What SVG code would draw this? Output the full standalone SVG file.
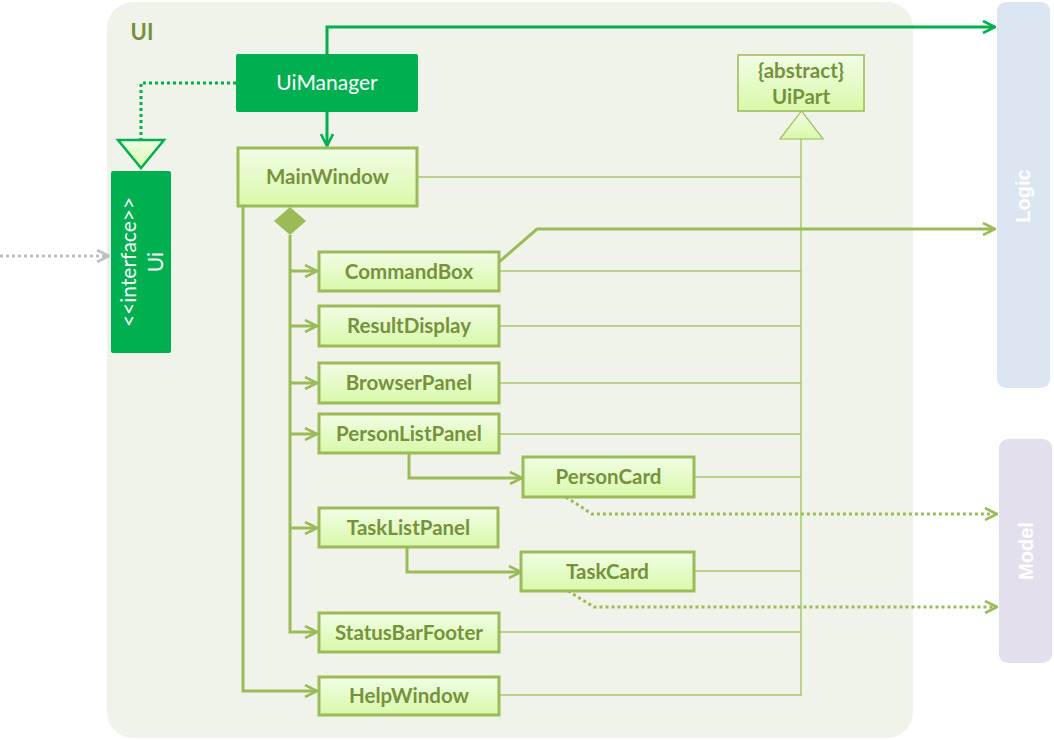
<svg xmlns="http://www.w3.org/2000/svg" width="1054" height="740" viewBox="0 0 1054 740">
<defs>
<linearGradient id="boxg" x1="0" y1="0" x2="0" y2="1">
<stop offset="0" stop-color="#F1FDE6"/>
<stop offset="1" stop-color="#D9F9A9"/>
</linearGradient>
<marker id="aG" viewBox="0 0 14 14" refX="13" refY="7" markerWidth="14" markerHeight="14" markerUnits="userSpaceOnUse" orient="auto">
<path d="M1,1 L13,7 L1,13" fill="none" stroke="#00B050" stroke-width="2.6"/>
</marker>
<marker id="aO" viewBox="0 0 14 14" refX="13" refY="7" markerWidth="14" markerHeight="14" markerUnits="userSpaceOnUse" orient="auto">
<path d="M1,1 L13,7 L1,13" fill="none" stroke="#9BBB59" stroke-width="2.6"/>
</marker>
<marker id="aY" viewBox="0 0 14 14" refX="13" refY="7" markerWidth="14" markerHeight="14" markerUnits="userSpaceOnUse" orient="auto">
<path d="M1,1 L13,7 L1,13" fill="none" stroke="#BFBFBF" stroke-width="2.6"/>
</marker>
</defs>
<style>
.box{fill:url(#boxg);stroke:#9BBB59;stroke-width:3}
.lbl{font-family:Lato,"Liberation Sans",sans-serif;font-weight:700;font-size:20.5px;fill:#76923C;text-anchor:middle}
.wl{font-family:Lato,"Liberation Sans",sans-serif;font-size:21px;fill:#FFFFFF;text-anchor:middle}
.pk{font-family:"Liberation Sans",Arial,sans-serif;font-weight:700;font-size:20px;fill:#FFFFFF;text-anchor:middle}
.thin{stroke:#A9C96A;stroke-width:1.5;fill:none}
.olive{stroke:#9BBB59;stroke-width:3;fill:none}
.grn{stroke:#00B050;stroke-width:3;fill:none}
</style>

<g id="ui-container">
<rect x="107" y="2" width="806" height="736" rx="26" fill="#F0F3E9"/>
<text x="142" y="40" font-family="Lato,'Liberation Sans',sans-serif" font-weight="700" font-size="22" fill="#76923C" text-anchor="middle">UI</text>
</g>

<g id="logic">
<rect x="997" y="2" width="53" height="386" rx="9" fill="#DCE6F2"/>
<text class="pk" transform="translate(1030,196) rotate(-90)">Logic</text>
</g>
<g id="model">
<rect x="999" y="439" width="53" height="224" rx="9" fill="#E4DFEC"/>
<text class="pk" transform="translate(1033,551) rotate(-90)">Model</text>
</g>

<g id="connectors">
<line class="thin" x1="801" y1="139" x2="801" y2="696"/>
<line class="thin" x1="417" y1="177" x2="801" y2="177"/>
<line class="thin" x1="499" y1="271" x2="801" y2="271"/>
<line class="thin" x1="499" y1="326" x2="801" y2="326" stroke="#C3D69B"/>
<line class="thin" x1="499" y1="383" x2="801" y2="383"/>
<line class="thin" x1="499" y1="434" x2="801" y2="434"/>
<line class="thin" x1="694" y1="477" x2="801" y2="477"/>
<line class="thin" x1="694" y1="571" x2="801" y2="571"/>
<line class="thin" x1="499" y1="632" x2="801" y2="632"/>
<line class="thin" x1="499" y1="695" x2="801" y2="695"/>
<path d="M780,139 L823,139 L801.5,111 Z" fill="url(#boxg)" stroke="#9BBB59" stroke-width="1.2"/>

<path class="grn" d="M327,54 L327,27 L995,27" marker-end="url(#aG)"/>
<path class="grn" d="M327,112 L327,146" marker-end="url(#aG)"/>
<path d="M236,83 L141,83 L141,139" fill="none" stroke="#00B050" stroke-width="3" stroke-dasharray="3,3"/>
<path d="M118,140 L164,140 L141,168 Z" fill="url(#boxg)" stroke="#00B050" stroke-width="2.5"/>
<path d="M0,256 L109,256" fill="none" stroke="#BFBFBF" stroke-width="3" stroke-dasharray="3,3" marker-end="url(#aY)"/>

<path class="olive" d="M290,235 L290,632 L317,632" marker-end="url(#aO)"/>
<path d="M290,207 L306,221 L290,235 L274,221 Z" fill="#9BBB59"/>
<path class="olive" d="M290,271 L317,271" marker-end="url(#aO)"/>
<path class="olive" d="M290,326 L317,326" marker-end="url(#aO)"/>
<path class="olive" d="M290,383 L317,383" marker-end="url(#aO)"/>
<path class="olive" d="M290,434 L317,434" marker-end="url(#aO)"/>
<path class="olive" d="M290,528 L317,528" marker-end="url(#aO)"/>
<path class="olive" d="M243,206 L243,691 L317,691" marker-end="url(#aO)"/>
<path class="olive" d="M409,453 L409,478 L522,478" marker-end="url(#aO)"/>
<path class="olive" d="M407,547 L407,572 L521,572" marker-end="url(#aO)"/>

<path class="olive" d="M499,262 L537,229 L995,229" marker-end="url(#aO)"/>
<path d="M566,497 L592,514 L997,514" fill="none" stroke="#9BBB59" stroke-width="3" stroke-dasharray="3,3" marker-end="url(#aO)"/>
<path d="M568,591 L594,607 L997,607" fill="none" stroke="#9BBB59" stroke-width="3" stroke-dasharray="3,3" marker-end="url(#aO)"/>
</g>

<g id="UiManager">
<rect x="236" y="54" width="182" height="58" rx="2" fill="#00B050"/>
<text class="wl" x="327" y="90">UiManager</text>
</g>
<g id="Ui">
<rect x="111" y="171" width="60" height="182" rx="2" fill="#00B050"/>
<text class="wl" transform="translate(136,262) rotate(-90)">&lt;&lt;interface&gt;&gt;</text>
<text class="wl" transform="translate(163,262) rotate(-90)">Ui</text>
</g>
<g id="UiPart">
<rect x="738" y="55" width="126" height="56" fill="url(#boxg)" stroke="#9BBB59" stroke-width="1.5"/>
<text class="lbl" x="801" y="78">{abstract}</text>
<text class="lbl" x="801" y="104">UiPart</text>
</g>
<g id="MainWindow">
<rect class="box" x="238" y="148" width="179" height="58"/>
<text class="lbl" x="327.5" y="184">MainWindow</text>
</g>
<g id="CommandBox">
<rect class="box" x="319" y="252" width="180" height="39"/>
<text class="lbl" x="409" y="279">CommandBox</text>
</g>
<g id="ResultDisplay">
<rect class="box" x="319" y="306" width="180" height="40"/>
<text class="lbl" x="409" y="333">ResultDisplay</text>
</g>
<g id="BrowserPanel">
<rect class="box" x="319" y="363" width="180" height="40"/>
<text class="lbl" x="409" y="390">BrowserPanel</text>
</g>
<g id="PersonListPanel">
<rect class="box" x="319" y="414" width="180" height="39"/>
<text class="lbl" x="409" y="441">PersonListPanel</text>
</g>
<g id="PersonCard">
<rect class="box" x="523" y="457" width="171" height="40"/>
<text class="lbl" x="608.5" y="484">PersonCard</text>
</g>
<g id="TaskListPanel">
<rect class="box" x="319" y="508" width="179" height="39"/>
<text class="lbl" x="408.5" y="535">TaskListPanel</text>
</g>
<g id="TaskCard">
<rect class="box" x="521" y="552" width="173" height="39"/>
<text class="lbl" x="607.5" y="579">TaskCard</text>
</g>
<g id="StatusBarFooter">
<rect class="box" x="319" y="613" width="180" height="39"/>
<text class="lbl" x="409" y="640">StatusBarFooter</text>
</g>
<g id="HelpWindow">
<rect class="box" x="319" y="677" width="180" height="38"/>
<text class="lbl" x="409" y="703">HelpWindow</text>
</g>
</svg>
